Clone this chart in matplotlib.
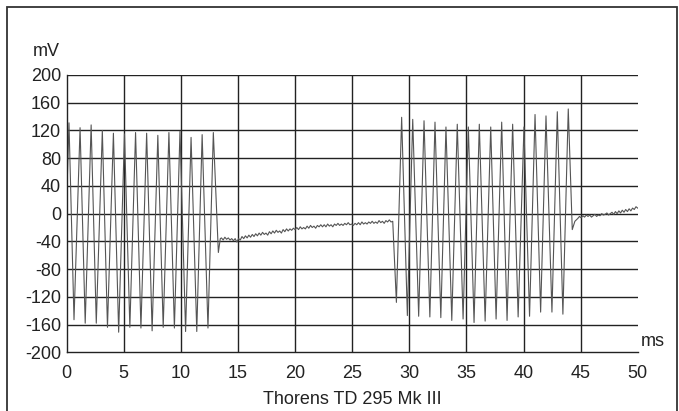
import numpy as np
import matplotlib
matplotlib.use("Agg")
import matplotlib.pyplot as plt
from matplotlib.patches import Rectangle

plt.rcParams["font.family"] = ["Liberation Sans", "DejaVu Sans"]
plt.rcParams["axes.unicode_minus"] = False

# --- first tone burst: alternating extrema (ms, mV) ---
burst1_start = (0.0, 20)
burst1_peak_t = [0.20, 1.17, 2.14, 3.12, 4.09, 5.06, 6.03, 7.00, 7.98, 8.95, 9.92, 10.89, 11.86, 12.84]
burst1_peak_v = [131, 124, 128, 120, 116, 115, 117, 116, 113, 117, 119, 110, 114, 117]
burst1_trough_t = [0.64, 1.62, 2.59, 3.57, 4.55, 5.53, 6.50, 7.48, 8.45, 9.43, 10.41, 11.39, 12.37]
burst1_trough_v = [-153, -158, -158, -164, -171, -164, -165, -169, -164, -165, -170, -170, -165]

# settling after the first burst
settle1_t = [13.28, 13.45]
settle1_v = [-56, -36]

# --- first quiet stretch, sampled every 0.15 ms from 13.55 ms ---
quiet1_t0 = 13.55
quiet1_dt = 0.15
quiet1_v = [
    -35, -38, -34, -37, -35, -38, -36, -39, -36, -41,
    -36, -38, -33, -36, -32, -35, -31, -34, -30, -33,
    -29, -32, -28, -31, -27, -30, -28, -31, -26, -29,
    -25, -28, -24, -27, -25, -28, -23, -26, -22, -25,
    -22, -24, -21, -23, -20, -23, -19, -22, -20, -22,
    -18, -21, -17, -20, -18, -21, -17, -19, -16, -19,
    -16, -19, -15, -18, -16, -19, -15, -17, -14, -17,
    -15, -17, -14, -16, -13, -16, -15, -17, -14, -16,
    -13, -16, -12, -15, -13, -15, -12, -14, -11, -14,
    -12, -14, -10, -13, -11, -14, -10, -12, -9, -12,
    -11,
]

# --- second tone burst ---
burst2_trough_t = [28.87, 29.83, 30.82, 31.80, 32.76, 33.72, 34.71, 35.67,
                   36.64, 37.60, 38.56, 39.53, 40.53, 41.50, 42.49, 43.45]
burst2_trough_v = [-128, -147, -148, -149, -150, -154, -152, -157,
                   -155, -152, -154, -149, -148, -142, -142, -145]
burst2_peak_t = [29.33, 30.30, 31.29, 32.25, 33.21, 34.20, 35.17, 36.13,
                 37.13, 38.09, 39.05, 40.04, 41.01, 41.97, 42.96, 43.92]
burst2_peak_v = [139, 136, 134, 132, 125, 129, 125, 129,
                 125, 132, 129, 125, 143, 141, 147, 151]

settle2_t = [44.27, 44.50]
settle2_v = [-23, -11]

# --- second quiet stretch, sampled every 0.15 ms from 44.75 ms ---
quiet2_t0 = 44.75
quiet2_dt = 0.15
quiet2_v = [
    -7, -4, -6, -3, -5, -2, -4, -2, -5, -3,
    -1, -4, -2, -3, 0, -2, -1, 1, -2, 0,
    2, -1, 3, 0, 4, 1, 5, 2, 6, 3,
    7, 4, 8, 6, 10, 8,
]

x_ticks = [0, 5, 10, 15, 20, 25, 30, 35, 40, 45, 50]
y_ticks = [-200, -160, -120, -80, -40, 0, 40, 80, 120, 160, 200]
x_unit = "ms"
y_unit = "mV"
title = "Thorens TD 295 Mk III"


def interleave(first_t, first_v, second_t, second_v):
    ts, vs = [], []
    for i in range(max(len(first_t), len(second_t))):
        if i < len(first_t):
            ts.append(first_t[i]); vs.append(first_v[i])
        if i < len(second_t):
            ts.append(second_t[i]); vs.append(second_v[i])
    return ts, vs


t_all, v_all = [burst1_start[0]], [burst1_start[1]]
bt, bv = interleave(burst1_peak_t, burst1_peak_v, burst1_trough_t, burst1_trough_v)
t_all += bt; v_all += bv
t_all += settle1_t; v_all += settle1_v
t_all += [quiet1_t0 + quiet1_dt * i for i in range(len(quiet1_v))]; v_all += quiet1_v
bt, bv = interleave(burst2_trough_t, burst2_trough_v, burst2_peak_t, burst2_peak_v)
t_all += bt; v_all += bv
t_all += settle2_t; v_all += settle2_v
t_all += [quiet2_t0 + quiet2_dt * i for i in range(len(quiet2_v))]; v_all += quiet2_v

W, H, DPI = 679, 411, 100
fig = plt.figure(figsize=(W / DPI, H / DPI), dpi=DPI)
fig.patch.set_facecolor("white")

# outer frame
fig.add_artist(Rectangle((7 / W, -0.05), (677 - 7) / W, 1.05 - 7 / H,
                         transform=fig.transFigure, fill=False,
                         edgecolor="#333333", linewidth=1.3))

ax = fig.add_axes([66.7 / W, 58.7 / H, 571.0 / W, 277.3 / H])
ax.set_xlim(x_ticks[0], x_ticks[-1])
ax.set_ylim(y_ticks[0], y_ticks[-1])

grid_kw = dict(color="#222222", linewidth=1.0, zorder=1)
for xv in x_ticks[1:-1]:
    ax.axvline(xv, **grid_kw)
for yv in y_ticks[1:]:
    ax.axhline(yv, **grid_kw)

ax.plot(t_all, v_all, color="#555555", linewidth=0.8, zorder=2)

for s in ("top", "right"):
    ax.spines[s].set_visible(False)
for s in ("left", "bottom"):
    ax.spines[s].set_color("#222222")
    ax.spines[s].set_linewidth(1.0)

ax.set_xticks(x_ticks)
ax.set_yticks(y_ticks)
ax.tick_params(axis="both", length=0, labelsize=13, colors="#222222")
ax.tick_params(axis="y", pad=4)
ax.tick_params(axis="x", pad=9)

ax.text(-0.012, 1.085, y_unit, transform=ax.transAxes, fontsize=13,
        ha="right", va="center", color="#222222")
ax.text(1.005, 0.04, x_unit, transform=ax.transAxes, fontsize=13,
        ha="left", va="center", color="#222222")
ax.text(0.5, -0.172, title, transform=ax.transAxes, fontsize=13,
        ha="center", va="center", color="#222222")

fig.savefig("out.png", dpi=DPI)
